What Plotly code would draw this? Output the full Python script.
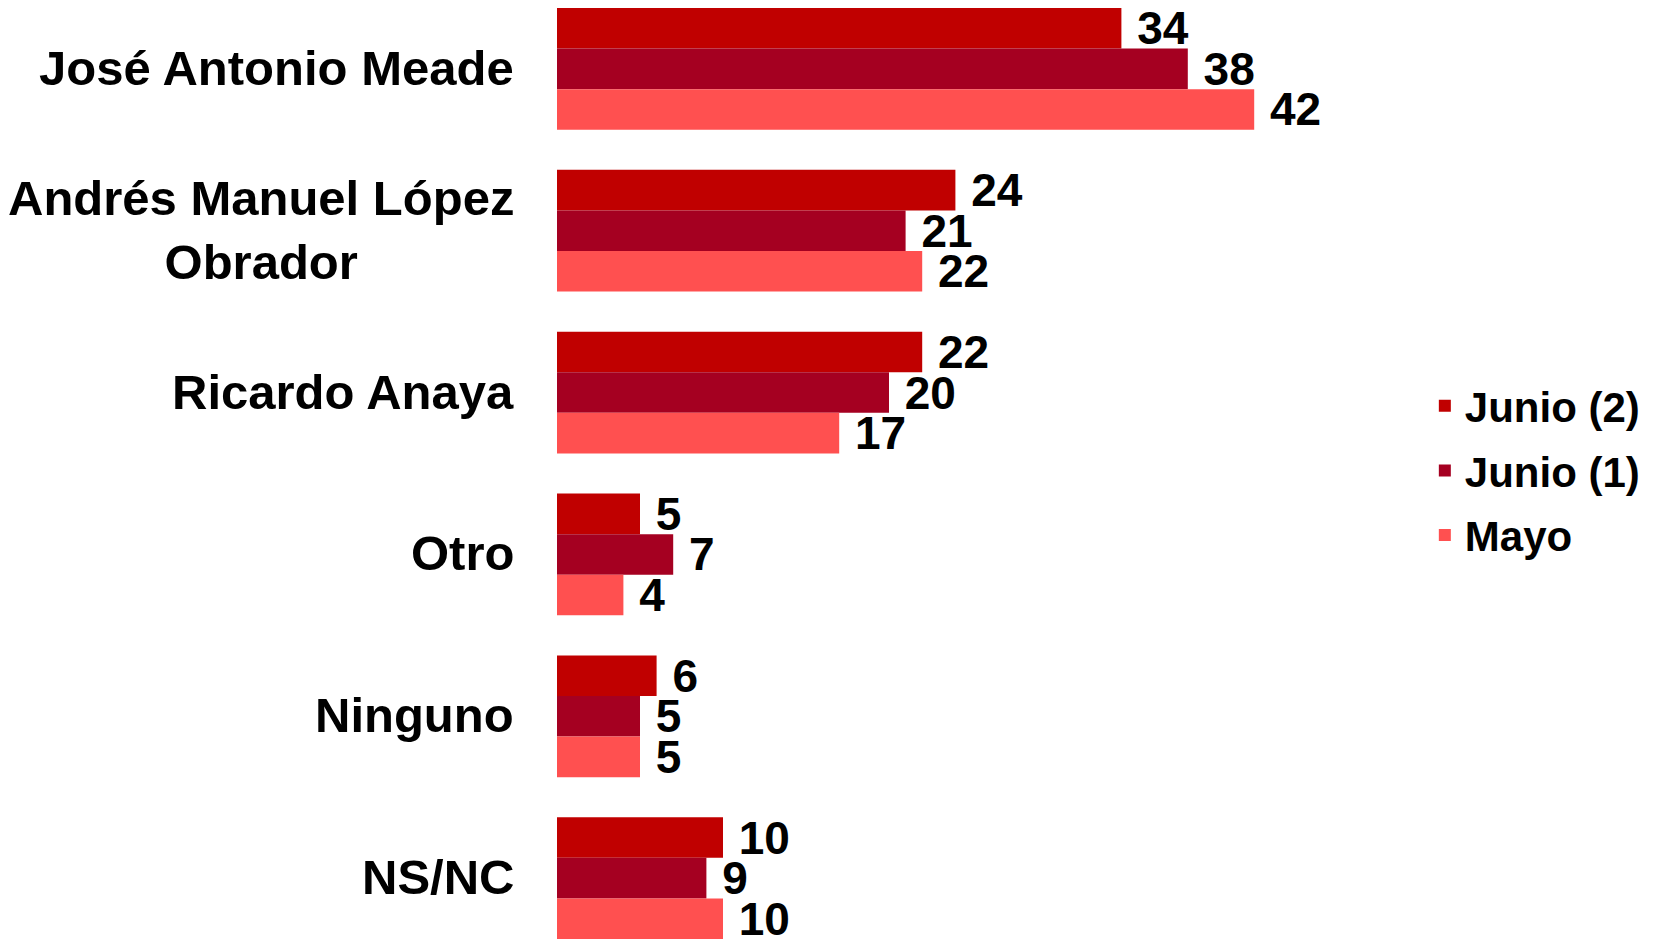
import plotly.graph_objects as go

# categories (top to bottom) and series values
candidatos = ["José Antonio Meade", "Andrés Manuel López<br>Obrador", "Ricardo Anaya",
              "Otro", "Ninguno", "NS/NC"]
junio_2 = [34, 24, 22, 5, 6, 10]
junio_1 = [38, 21, 20, 7, 5, 9]
mayo = [42, 22, 17, 4, 5, 10]

series = [("Junio (2)", junio_2, "#C00000"),
          ("Junio (1)", junio_1, "#A50021"),
          ("Mayo", mayo, "#FF5050")]

font_family = "Liberation Sans, Arial, sans-serif"

fig = go.Figure()
for name, vals, color in series:
    fig.add_trace(go.Bar(
        y=candidatos,
        x=vals,
        name=name,
        legendgroup=name,
        orientation="h",
        marker=dict(color=color, line=dict(width=0)),
        text=vals,
        texttemplate="\u00a0%{x}",
        textposition="outside",
        constraintext="none",
        cliponaxis=False,
        textfont=dict(family=font_family, size=46, color="black", weight="bold"),
    ))

# category labels as annotations so the two-line label stays centred
for cat in candidatos:
    fig.add_annotation(
        x=0, xref="paper", y=cat, yref="y",
        text=cat, showarrow=False,
        xanchor="right", xshift=-41, yshift=1, align="center",
        font=dict(family=font_family, size=49, color="black", weight="bold"),
    )

fig.update_layout(
    width=1661, height=940,
    margin=dict(l=549, r=116, t=0, b=9, autoexpand=False),
    paper_bgcolor="white", plot_bgcolor="white",
    barmode="group", bargap=0.248, bargroupgap=0,
    showlegend=True,
    legend=dict(
        xref="container", yref="container",
        x=0.853, y=1 - 364 / 940, xanchor="left", yanchor="top",
        font=dict(family=font_family, size=42, color="black", weight="bold"),
        traceorder="grouped", tracegroupgap=7,
    ),
    xaxis=dict(range=[0, 60], visible=False),
    yaxis=dict(range=[5.376, -0.376], showticklabels=False, showgrid=False,
               zeroline=False, ticks=""),
)

fig.write_html("out.html")
